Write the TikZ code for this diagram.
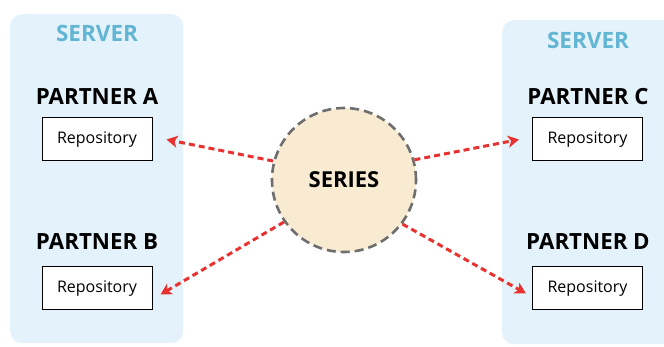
\documentclass[tikz,border=0pt]{standalone}
\usepackage{fontspec}
\setmainfont{Open Sans}
\usetikzlibrary{arrows.meta,calc}
\definecolor{panelfill}{HTML}{E4F2FB}
\definecolor{servertxt}{HTML}{62B6D3}
\definecolor{seriesfill}{HTML}{F8EBD2}
\definecolor{seriesline}{HTML}{6E6E6E}
\definecolor{arrred}{HTML}{E8322F}
\tikzset{
  panel/.style={fill=panelfill, draw=none, rounded corners=12pt},
  servertitle/.style={text=servertxt, font=\fontsize{22.5}{22.5}\selectfont\bfseries},
  partner/.style={font=\fontsize{22.3}{22.3}\selectfont\bfseries, text=black},
  repo/.style={draw=black, line width=1pt, fill=white, minimum width=110pt, minimum height=43pt, font=\fontsize{16}{16}\selectfont, inner sep=0pt},
  series/.style={circle, fill=seriesfill, draw=seriesline, line width=2.6pt, dash pattern=on 9pt off 5pt, minimum size=144pt, inner sep=0pt, font=\fontsize{22}{22}\selectfont\bfseries},
  arr/.style={draw=arrred, line width=3pt, dash pattern=on 6pt off 4pt, -{Stealth[length=11pt,width=12pt,inset=3pt]}}
}
\begin{document}
\begin{tikzpicture}[x=1pt,y=-1pt]
\useasboundingbox (0,0) rectangle (664,347);
\clip (0,0) rectangle (664,347);
\fill[white] (0,0) rectangle (664,347);
\node[panel, minimum width=173pt, minimum height=329pt, anchor=north west] (lp) at (10,14) {};
\node[panel, minimum width=190pt, minimum height=324pt, anchor=north west] (rp) at (502,20) {};
\node[servertitle] (sl) at (97,33) {SERVER};
\node[servertitle] (sr) at (588,40) {SERVER};
\node[partner] (pa) at (97,97) {PARTNER A};
\node[partner] (pb) at (97,242) {PARTNER B};
\node[partner] (pc) at (588,97) {PARTNER C};
\node[partner] (pd) at (588,242) {PARTNER D};
\node[repo] (ra) at (97,139.5) {Repository};
\node[repo] (rb) at (97,288.5) {Repository};
\node[repo] (rc) at (587.5,139.5) {Repository};
\node[repo] (rd) at (587.5,288.5) {Repository};
\node[series] (s) at (344,180) {SERIES};
\draw[arr] (s.165) -- ([xshift=14pt]ra.east);
\draw[arr] (s.215) -- ([xshift=8pt,yshift=-6pt]rb.east);
\draw[arr] (s.16) -- ([xshift=-13pt]rc.west);
\draw[arr] (s.323) -- ([xshift=-6pt,yshift=-5pt]rd.west);
\end{tikzpicture}
\end{document}
